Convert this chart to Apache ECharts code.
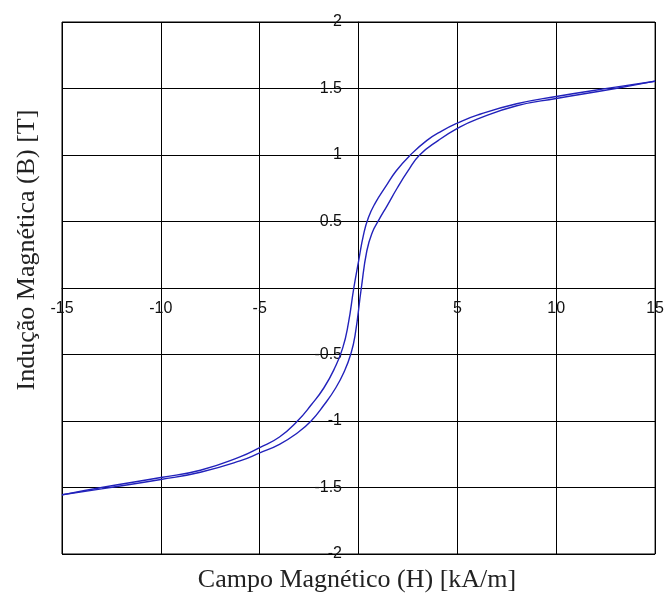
<!DOCTYPE html>
<html>
<head>
<meta charset="utf-8">
<script src="https://cdn.jsdelivr.net/npm/echarts@6/dist/echarts.min.js"></script>
<style>
  html, body { margin: 0; padding: 0; background: #fff; }
  #chart { width: 667px; height: 607px; }
</style>
</head>
<body>
<div id="chart"></div>
<script>
// ramo descendente (de +15 para -15 kA/m)
const hUpper = [15, 13, 10, 8, 6, 5, 4.2, 3.46, 2.62, 1.9, 1.36, 0.85, 0.5, 0.25, 0.0, -0.24, -0.52, -0.8, -1.2, -1.75, -2.4, -3.09, -4, -5, -6, -8, -10, -13, -15]
const bUpper = [1.555, 1.51, 1.44, 1.385, 1.30, 1.24, 1.18, 1.11, 1.0, 0.88, 0.76, 0.64, 0.53, 0.4, 0.2, 0, -0.27, -0.45, -0.6, -0.75, -0.88, -1.0, -1.12, -1.20, -1.27, -1.37, -1.425, -1.50, -1.555]

// ramo ascendente (de -15 para +15 kA/m)
const hLower = [-15, -13, -10, -8, -6, -5, -4, -3.1, -2.4, -1.75, -1.15, -0.7, -0.4, -0.18, 0.14, 0.42, 0.7, 1.02, 1.45, 1.95, 2.5, 3.09, 4.04, 5, 6, 8, 10, 13, 15]
const bLower = [-1.555, -1.51, -1.44, -1.385, -1.30, -1.24, -1.175, -1.09, -1.0, -0.88, -0.75, -0.62, -0.5, -0.36, 0, 0.28, 0.42, 0.51, 0.62, 0.75, 0.88, 1.0, 1.11, 1.20, 1.27, 1.37, 1.425, 1.50, 1.555]

const xTitle = 'Campo Magnético (H) [kA/m]'
const yTitle = 'Indução Magnética (B) [T]'

const lineColor = '#2222bb'
const labelFont = 'Liberation Sans, Arial, sans-serif'
const titleFont = 'Liberation Serif, Times New Roman, serif'

const zip = (hs, bs) => hs.map((h, i) => [h, bs[i]])

// esconde o zero nos dois eixos
const noZero = (v) => (v === 0 ? '' : String(v))

const chart = echarts.init(document.getElementById('chart'))
const option = {
    backgroundColor: '#fff',
    animation: false,
    grid: {
        left: 62, right: 11, top: 22, bottom: 53,
        show: true, borderColor: '#000', borderWidth: 1
    },
    // eixos cruzando no centro (0,0)
    xAxis: {
        type: 'value', min: -15, max: 15, interval: 5,
        offset: -266,
        axisLine: { onZero: false, lineStyle: { color: '#000', width: 1 } },
        axisTick: { show: false },
        axisLabel: { formatter: noZero, color: '#111', fontSize: 16, fontFamily: labelFont, margin: 13 },
        splitLine: { lineStyle: { color: '#000', width: 1 } }
    },
    yAxis: {
        type: 'value', min: -2, max: 2, interval: 0.5,
        offset: -296,
        axisLine: { onZero: false, lineStyle: { color: '#000', width: 1 } },
        axisTick: { show: false },
        axisLabel: { formatter: noZero, color: '#111', fontSize: 16, fontFamily: labelFont, margin: 16 },
        splitLine: { lineStyle: { color: '#000', width: 1 } }
    },
    graphic: [
        {
            type: 'text', x: 357, y: 580,
            style: { text: xTitle, align: 'center', verticalAlign: 'middle', fill: '#222', font: '26px ' + titleFont }
        },
        {
            type: 'text', x: 27, y: 250, rotation: Math.PI / 2,
            style: { text: yTitle, align: 'center', verticalAlign: 'middle', fill: '#222', font: '26px ' + titleFont }
        }
    ],
    series: [
        {
            type: 'line', data: zip(hUpper, bUpper), smooth: 0.5,
            showSymbol: false, lineStyle: { color: lineColor, width: 1.4 }
        },
        {
            type: 'line', data: zip(hLower, bLower), smooth: 0.5,
            showSymbol: false, lineStyle: { color: lineColor, width: 1.4 }
        }
    ]
}
chart.setOption(option)
</script>
</body>
</html>
